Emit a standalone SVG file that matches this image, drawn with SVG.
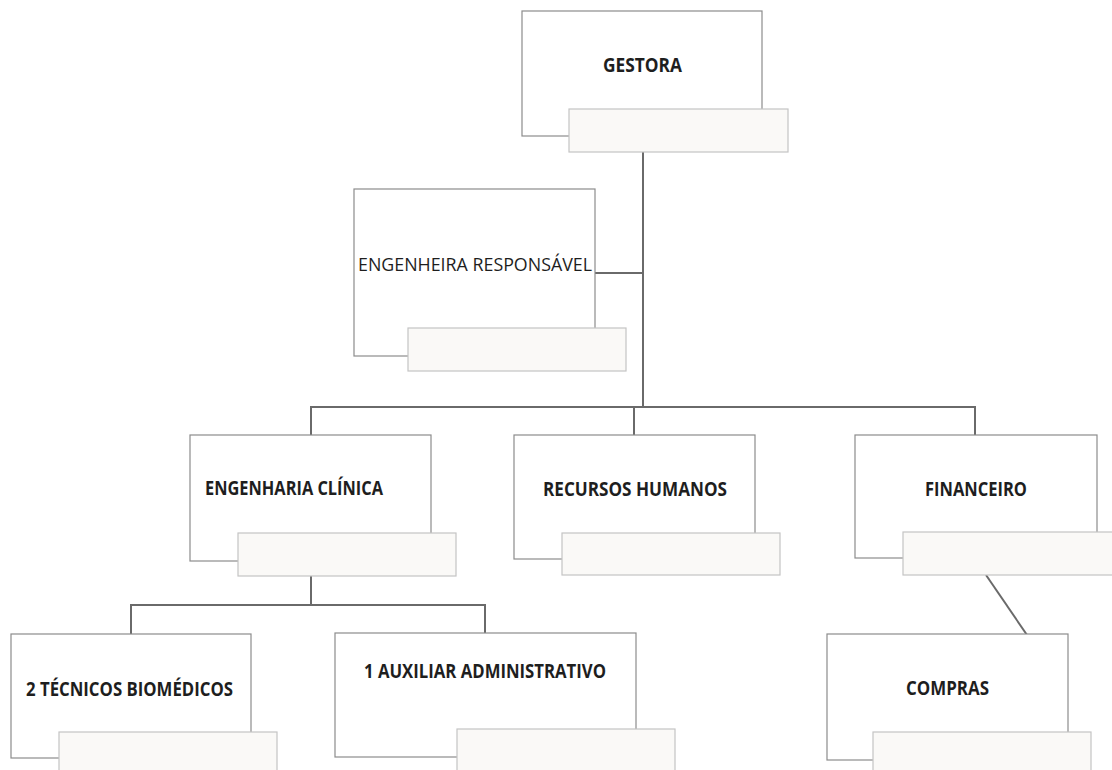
<svg xmlns="http://www.w3.org/2000/svg" width="1112" height="770" viewBox="0 0 1112 770">
<style>
.box{fill:#ffffff;stroke:#8c8c8c;stroke-width:1.2}
.lab{fill:#faf9f7;stroke:#c4c4c4;stroke-width:1.2}
.con{fill:none;stroke:#6a6a6a;stroke-width:2}
.t{font-family:"Open Sans","Liberation Sans",sans-serif;font-size:19px;font-weight:bold;fill:#1e1e1e}
.r{font-weight:normal}
</style>
<rect x="0" y="0" width="1112" height="770" fill="#ffffff"/>
<g id="connectors">
<path class="con" d="M643 152 V407"/>
<path class="con" d="M595 273 H643"/>
<path class="con" d="M311 435 V407 H975 V435"/>
<path class="con" d="M634 407 V435"/>
<path class="con" d="M311 576 V605"/>
<path class="con" d="M131 634 V605 H485 V633"/>
<path class="con" d="M986 575 L1027 635"/>
</g>
<g id="gestora">
<rect class="box" x="522" y="11" width="240" height="125"/>
<rect class="lab" x="569" y="109" width="219" height="43"/>
<text class="t" x="603" y="72" textLength="79" lengthAdjust="spacingAndGlyphs">GESTORA</text>
</g>
<g id="engenheira">
<rect class="box" x="354" y="189" width="241" height="167"/>
<rect class="lab" x="408" y="328" width="218" height="43"/>
<text class="t r" x="358" y="271" textLength="234" lengthAdjust="spacingAndGlyphs">ENGENHEIRA RESPONSÁVEL</text>
</g>
<g id="eng-clinica">
<rect class="box" x="190" y="435" width="241" height="126"/>
<rect class="lab" x="238" y="533" width="218" height="43"/>
<text class="t" x="205" y="495" textLength="178" lengthAdjust="spacingAndGlyphs">ENGENHARIA CLÍNICA</text>
</g>
<g id="rh">
<rect class="box" x="514" y="435" width="241" height="124"/>
<rect class="lab" x="562" y="533" width="218" height="42"/>
<text class="t" x="543" y="496" textLength="184" lengthAdjust="spacingAndGlyphs">RECURSOS HUMANOS</text>
</g>
<g id="financeiro">
<rect class="box" x="855" y="435" width="242" height="123"/>
<rect class="lab" x="903" y="532" width="215" height="43"/>
<text class="t" x="925" y="496" textLength="102" lengthAdjust="spacingAndGlyphs">FINANCEIRO</text>
</g>
<g id="tecnicos">
<rect class="box" x="11" y="634" width="240" height="124"/>
<rect class="lab" x="59" y="732" width="218" height="45"/>
<text class="t" x="26" y="696" textLength="207" lengthAdjust="spacingAndGlyphs">2 TÉCNICOS BIOMÉDICOS</text>
</g>
<g id="auxiliar">
<rect class="box" x="335" y="633" width="301" height="124"/>
<rect class="lab" x="457" y="729" width="218" height="48"/>
<text class="t" x="364" y="678" textLength="242" lengthAdjust="spacingAndGlyphs">1 AUXILIAR ADMINISTRATIVO</text>
</g>
<g id="compras">
<rect class="box" x="827" y="634" width="241" height="126"/>
<rect class="lab" x="873" y="732" width="218" height="45"/>
<text class="t" x="906" y="695" textLength="83" lengthAdjust="spacingAndGlyphs">COMPRAS</text>
</g>
</svg>
